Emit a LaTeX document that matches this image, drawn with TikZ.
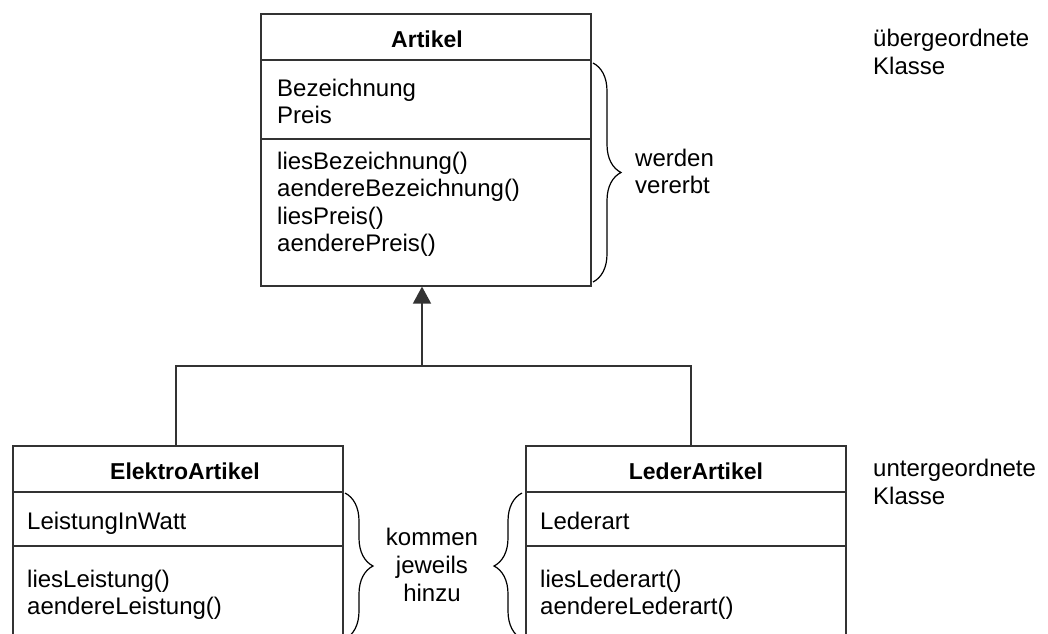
\documentclass[tikz,border=0pt]{standalone}
\usepackage{fontspec}
\setmainfont{Liberation Sans}
\usetikzlibrary{arrows.meta,decorations.pathreplacing}
\definecolor{ink}{HTML}{333333}
\tikzset{
  umlbox/.style={draw=ink, line width=1.6pt, anchor=north west, inner sep=0pt},
  rule/.style={draw=ink, line width=1.6pt},
  txt/.style={anchor=base west, inner sep=0pt, font=\fontsize{24}{28}\selectfont},
  note/.style={anchor=base, inner sep=0pt, font=\fontsize{24}{28}\selectfont},
  ttl/.style={anchor=base, inner sep=0pt, font=\fontsize{23}{28}\selectfont\bfseries},
  cbrace/.style={draw=black, line width=1.2pt, decorate, decoration={brace, amplitude=28pt}},
}
\begin{document}
\begin{tikzpicture}[x=1pt, y=-1pt]
\clip (0,0) rectangle (1048,633);
\fill[white] (0,0) rectangle (1048,633);

% superclass Artikel
\node[umlbox, minimum width=330pt, minimum height=272pt] (artikel) at (260,13) {};
\draw[rule] (artikel.west |- 0,60) -- (artikel.east |- 0,60);
\draw[rule] (artikel.west |- 0,139) -- (artikel.east |- 0,139);
\node[ttl] (artikelT) at (427,47) {Artikel};
\node[txt] (a1) at (277,96) {Bezeichnung};
\node[txt] (a2) at (277,123) {Preis};
\node[txt] (m1) at (277,169) {liesBezeichnung()};
\node[txt] (m2) at (277,196.5) {aendereBezeichnung()};
\node[txt] (m3) at (277,224) {liesPreis()};
\node[txt] (m4) at (277,251.5) {aenderePreis()};

% subclass ElektroArtikel
\node[umlbox, minimum width=330pt, minimum height=230pt] (elektro) at (12,445) {};
\draw[rule] (elektro.west |- 0,492) -- (elektro.east |- 0,492);
\draw[rule] (elektro.west |- 0,546) -- (elektro.east |- 0,546);
\node[ttl] (elektroT) at (185,479) {ElektroArtikel};
\node[txt] (e1) at (27,529) {LeistungInWatt};
\node[txt] (e2) at (27,587) {liesLeistung()};
\node[txt] (e3) at (27,614) {aendereLeistung()};

% subclass LederArtikel
\node[umlbox, minimum width=320pt, minimum height=230pt] (leder) at (525,445) {};
\draw[rule] (leder.west |- 0,492) -- (leder.east |- 0,492);
\draw[rule] (leder.west |- 0,546) -- (leder.east |- 0,546);
\node[ttl] (lederT) at (696,479) {LederArtikel};
\node[txt] (l1) at (540,529) {Lederart};
\node[txt] (l2) at (540,587) {liesLederart()};
\node[txt] (l3) at (540,614) {aendereLederart()};

% generalisation connectors
\coordinate (hub) at (422,366);
\coordinate (ej) at (176,366);
\coordinate (lj) at (691,366);
\draw[rule] (ej |- elektro.north) -- (ej) -- (lj) -- (lj |- leder.north);
\draw[rule, -{Triangle[length=17pt, width=18pt]}] (hub) -- (hub |- artikel.south);

% braces and remarks
\coordinate (b1t) at (593,63);
\coordinate (b1b) at (593,282);
\draw[cbrace] (b1t) -- (b1b);
\node[txt] (w1) at (635,166) {werden};
\node[txt] (w2) at (635,193) {vererbt};

\coordinate (b2t) at (345,493);
\coordinate (b2b) at (345,639);
\draw[cbrace] (b2t) -- (b2b);
\coordinate (b3t) at (522,493);
\coordinate (b3b) at (522,639);
\draw[cbrace] (b3b) -- (b3t);
\node[note] (k1) at (432,545) {kommen};
\node[note] (k2) at (432,573) {jeweils};
\node[note] (k3) at (432,601) {hinzu};

\node[txt] (u1) at (873,46) {übergeordnete};
\node[txt] (u2) at (873,74) {Klasse};
\node[txt] (d1) at (873,476) {untergeordnete};
\node[txt] (d2) at (873,504) {Klasse};
\end{tikzpicture}
\end{document}
